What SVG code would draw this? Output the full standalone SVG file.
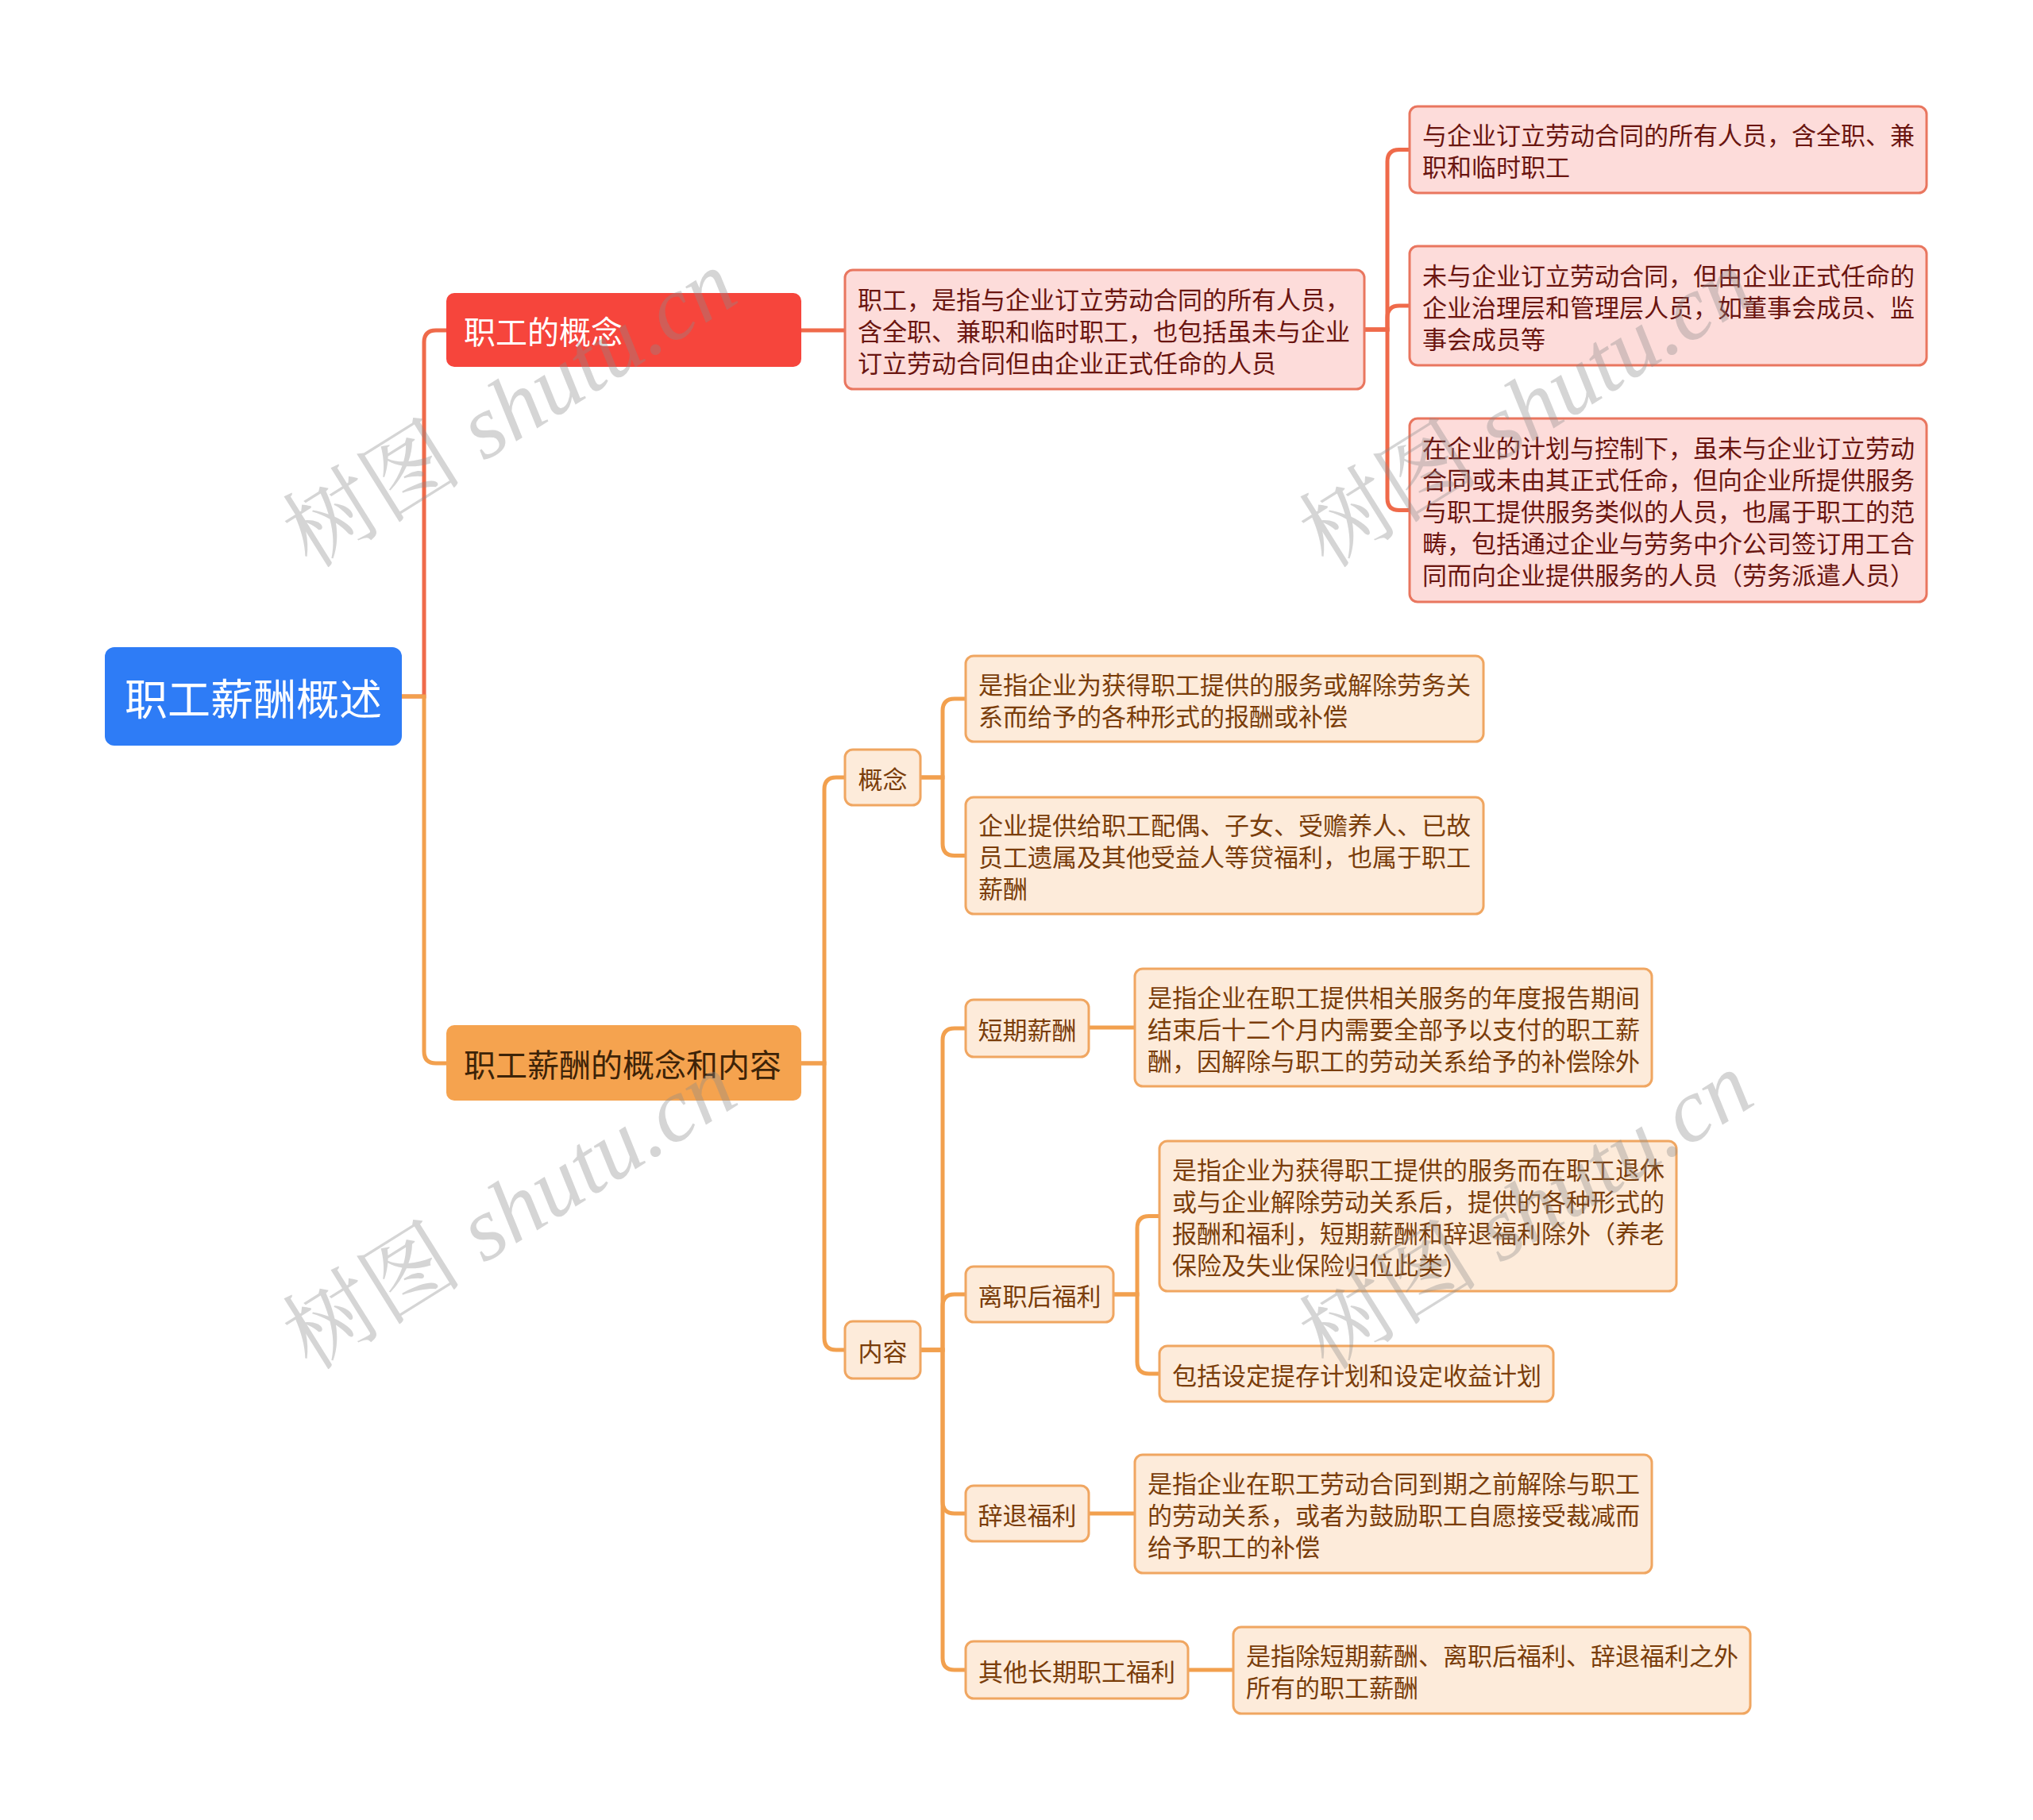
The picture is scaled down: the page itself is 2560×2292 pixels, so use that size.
<svg xmlns="http://www.w3.org/2000/svg" width="2560" height="2292" viewBox="0 0 2560 2292">
<style>
.t{font-family:"Noto Sans CJK SC","Noto Sans",sans-serif;}
.d{font-size:31px;dominant-baseline:central;}
.pk rect{fill:#FDDCDA;stroke:#E9765F;stroke-width:3;}
.pk text{fill:#6A1510;}
.or rect{fill:#FDEBDA;stroke:#F0A661;stroke-width:3;}
.or text{fill:#7A3D0A;}
.cr{fill:none;stroke:#EF6A4A;stroke-width:5;}
.co{fill:none;stroke:#F2A04E;stroke-width:5;}
.wm{font-family:"Liberation Serif","Noto Serif CJK SC","Noto Sans CJK SC",serif;font-size:114px;fill:#8a8a8a;fill-opacity:0.36;}
</style>
<rect width="2560" height="2292" fill="#FFFFFF"/>
<g id="connectors">
<path class="cr" d="M506,877 H534 V431 Q534,416 549,416 H562"/>
<path class="cr" d="M1009,416 H1064"/>
<path class="cr" d="M1718,415 H1747 V203.5 Q1747,188.5 1762,188.5 H1775"/>
<path class="cr" d="M1718,415 H1747 V400 Q1747,385 1762,385 H1775"/>
<path class="cr" d="M1718,415 H1747 V627.5 Q1747,642.5 1762,642.5 H1775"/>
<path class="co" d="M506,877 H534 V1324 Q534,1339 549,1339 H562"/>
<path class="co" d="M1009,1339 H1038 V994 Q1038,979 1053,979 H1064"/>
<path class="co" d="M1009,1339 H1038 V1685 Q1038,1700 1053,1700 H1064"/>
<path class="co" d="M1159,979 H1187 V895 Q1187,880 1202,880 H1216"/>
<path class="co" d="M1159,979 H1187 V1062.5 Q1187,1077.5 1202,1077.5 H1216"/>
<path class="co" d="M1159,1700 H1187 V1310 Q1187,1295 1202,1295 H1216"/>
<path class="co" d="M1159,1700 H1187 V1645 Q1187,1630 1202,1630 H1216"/>
<path class="co" d="M1159,1700 H1187 V1891 Q1187,1906 1202,1906 H1216"/>
<path class="co" d="M1159,1700 H1187 V2088 Q1187,2103 1202,2103 H1216"/>
<path class="co" d="M1371,1294 H1429"/>
<path class="co" d="M1402,1630 H1432 V1546.5 Q1432,1531.5 1447,1531.5 H1460"/>
<path class="co" d="M1402,1630 H1432 V1715 Q1432,1730 1447,1730 H1460"/>
<path class="co" d="M1371,1906 H1429"/>
<path class="co" d="M1496,2103 H1553"/>
</g>
<g id="root" class="t">
<rect x="132" y="815" width="374" height="124" rx="12" fill="#2E7CF6"/>
<text x="319" y="877" font-size="54" fill="#FFFFFF" text-anchor="middle" dominant-baseline="central">职工薪酬概述</text>
</g>
<g id="n-concept" class="t">
<rect x="562" y="369" width="447" height="93" rx="10" fill="#F6453C"/>
<text x="584" y="416" font-size="40" fill="#FFFFFF" dominant-baseline="central">职工的概念</text>
</g>
<g id="n-content" class="t">
<rect x="562" y="1291" width="447" height="95" rx="10" fill="#F5A34F"/>
<text x="584" y="1339" font-size="40" fill="#3D2308" dominant-baseline="central">职工薪酬的概念和内容</text>
</g>
<g id="n-def" class="t pk">
<rect x="1064" y="340" width="654" height="150" rx="10"/>
<text class="d" x="1080" y="375">职工，是指与企业订立劳动合同的所有人员，</text>
<text class="d" x="1080" y="415">含全职、兼职和临时职工，也包括虽未与企业</text>
<text class="d" x="1080" y="455">订立劳动合同但由企业正式任命的人员</text>
</g>
<g id="n-a" class="t pk">
<rect x="1775" y="134" width="651" height="109" rx="10"/>
<text class="d" x="1791" y="168.5">与企业订立劳动合同的所有人员，含全职、兼</text>
<text class="d" x="1791" y="208.5">职和临时职工</text>
</g>
<g id="n-b" class="t pk">
<rect x="1775" y="310" width="651" height="150" rx="10"/>
<text class="d" x="1791" y="345">未与企业订立劳动合同，但由企业正式任命的</text>
<text class="d" x="1791" y="385">企业治理层和管理层人员，如董事会成员、监</text>
<text class="d" x="1791" y="425">事会成员等</text>
</g>
<g id="n-c" class="t pk">
<rect x="1775" y="527" width="651" height="231" rx="10"/>
<text class="d" x="1791" y="562.5">在企业的计划与控制下，虽未与企业订立劳动</text>
<text class="d" x="1791" y="602.5">合同或未由其正式任命，但向企业所提供服务</text>
<text class="d" x="1791" y="642.5">与职工提供服务类似的人员，也属于职工的范</text>
<text class="d" x="1791" y="682.5">畴，包括通过企业与劳务中介公司签订用工合</text>
<text class="d" x="1791" y="722.5">同而向企业提供服务的人员（劳务派遣人员）</text>
</g>
<g id="n-gainian" class="t or">
<rect x="1064" y="944" width="95" height="70" rx="10"/>
<text class="d" x="1111.5" y="979" text-anchor="middle">概念</text>
</g>
<g id="n-g1" class="t or">
<rect x="1216" y="826" width="652" height="108" rx="10"/>
<text class="d" x="1232" y="860">是指企业为获得职工提供的服务或解除劳务关</text>
<text class="d" x="1232" y="900">系而给予的各种形式的报酬或补偿</text>
</g>
<g id="n-g2" class="t or">
<rect x="1216" y="1004" width="652" height="147" rx="10"/>
<text class="d" x="1232" y="1037.5">企业提供给职工配偶、子女、受赡养人、已故</text>
<text class="d" x="1232" y="1077.5">员工遗属及其他受益人等贷福利，也属于职工</text>
<text class="d" x="1232" y="1117.5">薪酬</text>
</g>
<g id="n-neirong" class="t or">
<rect x="1064" y="1664" width="95" height="72" rx="10"/>
<text class="d" x="1111.5" y="1700" text-anchor="middle">内容</text>
</g>
<g id="n-short" class="t or">
<rect x="1216" y="1259" width="155" height="72" rx="10"/>
<text class="d" x="1293.5" y="1295" text-anchor="middle">短期薪酬</text>
</g>
<g id="n-short-d" class="t or">
<rect x="1429" y="1220" width="651" height="148" rx="10"/>
<text class="d" x="1445" y="1254">是指企业在职工提供相关服务的年度报告期间</text>
<text class="d" x="1445" y="1294">结束后十二个月内需要全部予以支付的职工薪</text>
<text class="d" x="1445" y="1334">酬，因解除与职工的劳动关系给予的补偿除外</text>
</g>
<g id="n-post" class="t or">
<rect x="1216" y="1595" width="186" height="70" rx="10"/>
<text class="d" x="1309" y="1630" text-anchor="middle">离职后福利</text>
</g>
<g id="n-post-d1" class="t or">
<rect x="1460" y="1437" width="651" height="189" rx="10"/>
<text class="d" x="1476" y="1471.5">是指企业为获得职工提供的服务而在职工退休</text>
<text class="d" x="1476" y="1511.5">或与企业解除劳动关系后，提供的各种形式的</text>
<text class="d" x="1476" y="1551.5">报酬和福利，短期薪酬和辞退福利除外（养老</text>
<text class="d" x="1476" y="1591.5">保险及失业保险归位此类）</text>
</g>
<g id="n-post-d2" class="t or">
<rect x="1460" y="1695" width="496" height="70" rx="10"/>
<text class="d" x="1476" y="1730">包括设定提存计划和设定收益计划</text>
</g>
<g id="n-dismiss" class="t or">
<rect x="1216" y="1871" width="155" height="70" rx="10"/>
<text class="d" x="1293.5" y="1906" text-anchor="middle">辞退福利</text>
</g>
<g id="n-dismiss-d" class="t or">
<rect x="1429" y="1832" width="651" height="149" rx="10"/>
<text class="d" x="1445" y="1866.5">是指企业在职工劳动合同到期之前解除与职工</text>
<text class="d" x="1445" y="1906.5">的劳动关系，或者为鼓励职工自愿接受裁减而</text>
<text class="d" x="1445" y="1946.5">给予职工的补偿</text>
</g>
<g id="n-other" class="t or">
<rect x="1216" y="2067" width="280" height="72" rx="10"/>
<text class="d" x="1356" y="2103" text-anchor="middle">其他长期职工福利</text>
</g>
<g id="n-other-d" class="t or">
<rect x="1553" y="2049" width="651" height="109" rx="10"/>
<text class="d" x="1569" y="2083.5">是指除短期薪酬、离职后福利、辞退福利之外</text>
<text class="d" x="1569" y="2123.5">所有的职工薪酬</text>
</g>
<g id="watermark">
<text class="wm" transform="translate(642,515) rotate(-32)" text-anchor="middle" dominant-baseline="central">树图 <tspan font-style="italic">shutu.cn</tspan></text>
<text class="wm" transform="translate(642,1525) rotate(-32)" text-anchor="middle" dominant-baseline="central">树图 <tspan font-style="italic">shutu.cn</tspan></text>
<text class="wm" transform="translate(1922,515) rotate(-32)" text-anchor="middle" dominant-baseline="central">树图 <tspan font-style="italic">shutu.cn</tspan></text>
<text class="wm" transform="translate(1922,1525) rotate(-32)" text-anchor="middle" dominant-baseline="central">树图 <tspan font-style="italic">shutu.cn</tspan></text>
</g>
</svg>
